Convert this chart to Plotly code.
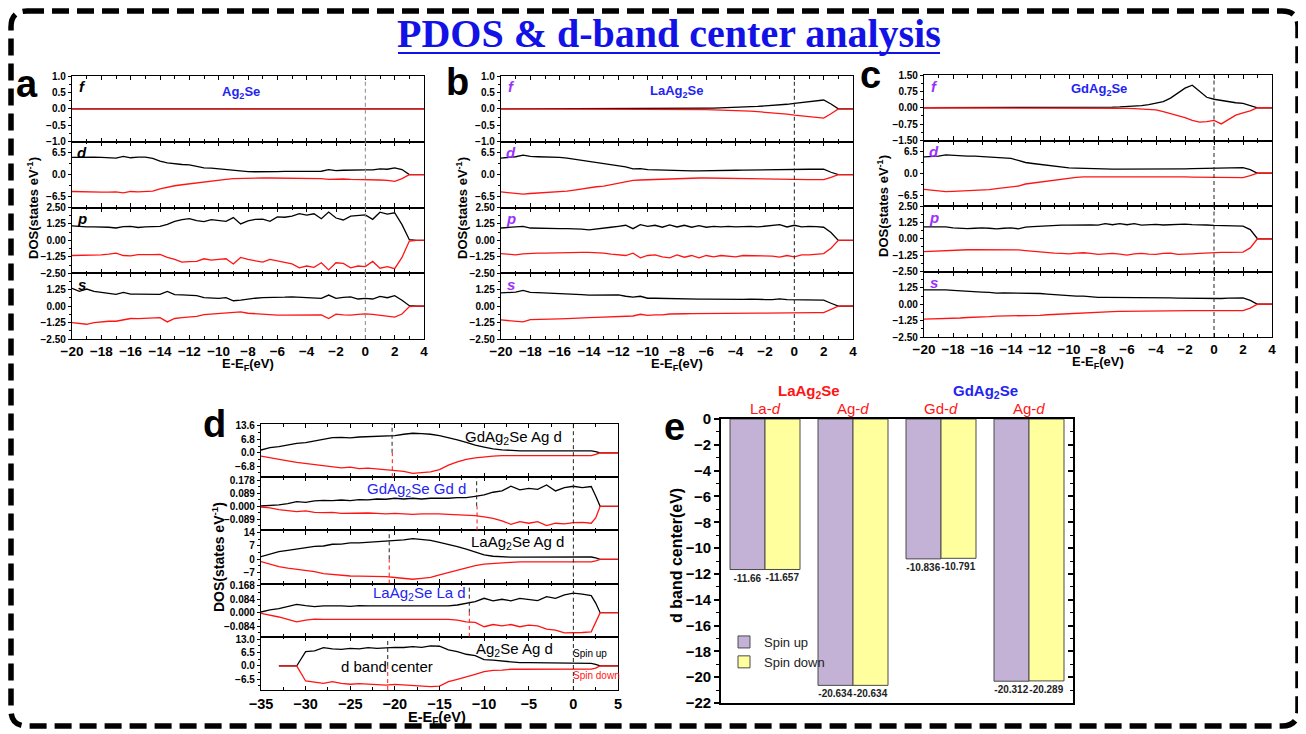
import numpy as np
import plotly.graph_objects as go

W, H = 1306, 734
OFF = 8  # page body offset of the plot div
FONT = "Liberation Sans, Arial, sans-serif"
BLUE = "#2424F2"
PURPLE = "#9B30FF"
RED = "#FF1414"

# ---------------- data: panels a-c (PDOS, energy grid 0.5 eV) ----------------
E_ABC = np.arange(-20, 4.001, 0.5).tolist()
E_FLAT = [-20, 4]
A_F_UP = [0.0, 0.0]
A_F_DN = [0.0, 0.0]

A_D_UP = [5.1, 5.2, 5.3, 5.2, 5.1, 5.0, 4.9, 5.4, 5.0, 5.2,
          5.2, 4.8, 4.0, 3.5, 3.2, 3.0, 2.9, 2.5, 2.0, 1.9,
          1.7, 1.5, 1.2, 0.9, 0.9, 0.85, 0.8, 0.85, 0.9, 0.95,
          1.0, 1.05, 1.1, 1.0, 1.0, 1.5, 1.2, 1.3, 1.4, 1.3,
          1.4, 1.4, 1.7, 1.6, 2.0, 1.5, 0.0, 0.0, 0.0]
A_D_DN = [-5.0, -5.1, -5.2, -5.2, -5.2, -5.2, -5.1, -5.4, -5.0, -5.1,
          -5.0, -4.9, -4.2, -3.7, -3.3, -3.0, -2.7, -2.5, -2.2, -1.9,
          -1.7, -1.4, -1.2, -1.1, -1.0, -1.0, -1.0, -1.0, -1.0, -1.1,
          -1.1, -1.2, -1.2, -1.2, -1.2, -1.4, -1.3, -1.3, -1.4, -1.4,
          -1.5, -1.5, -1.6, -1.7, -2.0, -1.2, 0.0, 0.0, 0.0]
A_P_UP = [1.1, 1.05, 1.02, 1.02, 1.03, 1.0, 0.94, 1.05, 1.07, 0.98,
          1.02, 1.03, 1.07, 1.22, 1.45, 1.58, 1.66, 1.5, 1.42, 1.58,
          1.5, 1.45, 1.73, 1.25, 1.48, 1.6, 1.62, 1.45, 1.78, 1.76,
          1.85, 2.04, 1.92, 2.02, 1.65, 2.15, 1.7, 1.55, 1.84, 1.88,
          1.94, 1.6, 2.14, 2.0, 2.1, 1.2, 0.05, 0.0, 0.0]
A_P_DN = [-1.15, -1.15, -1.13, -1.15, -1.1, -1.05, -0.97, -1.15, -1.18, -1.08,
          -1.1, -1.08, -1.07, -1.3, -1.45, -1.66, -1.62, -1.6, -1.4, -1.5,
          -1.45, -1.4, -1.79, -1.3, -1.45, -1.55, -1.66, -1.45, -1.55, -1.7,
          -1.79, -2.09, -1.95, -2.05, -1.7, -2.25, -1.7, -1.75, -2.09, -1.95,
          -1.99, -1.6, -2.12, -2.0, -2.15, -1.3, -0.05, 0.0, 0.0]
A_S_UP = [1.35, 1.12, 1.3, 1.12, 1.05, 1.0, 0.9, 1.05, 0.92, 0.92,
          0.92, 0.9, 0.9, 1.12, 0.88, 0.86, 0.84, 0.8, 0.64, 0.62,
          0.59, 0.64, 0.41, 0.45, 0.54, 0.6, 0.64, 0.64, 0.66, 0.68,
          0.71, 0.68, 0.64, 0.64, 0.59, 0.84, 0.59, 0.66, 0.71, 0.54,
          0.59, 0.54, 0.74, 0.64, 0.8, 0.45, 0.03, 0.0, 0.0]
A_S_DN = [-1.25, -1.3, -1.38, -1.25, -1.18, -1.15, -1.15, -1.02, -0.94, -0.95,
          -0.92, -0.9, -0.87, -1.2, -0.94, -0.88, -0.84, -0.78, -0.64, -0.6,
          -0.54, -0.52, -0.51, -0.43, -0.54, -0.58, -0.64, -0.66, -0.69, -0.68,
          -0.67, -0.68, -0.69, -0.68, -0.67, -0.94, -0.61, -0.66, -0.69, -0.62,
          -0.59, -0.62, -0.69, -0.72, -0.84, -0.6, -0.03, 0.0, 0.0]

B_F_UP = [0.0, 0.0, 0.0, 0.0, 0.0, 0.0, 0.0, 0.0, 0.0, 0.0,
          0.0, 0.0, 0.0, 0.0, 0.0, 0.0, 0.0, 0.0, 0.0, 0.0,
          0.0, 0.0, 0.005, 0.005, 0.01, 0.01, 0.015, 0.015, 0.02, 0.025,
          0.03, 0.035, 0.04, 0.05, 0.06, 0.075, 0.09, 0.1, 0.12, 0.14,
          0.17, 0.19, 0.22, 0.25, 0.27, 0.15, 0.0, 0.0, 0.0]
B_F_DN = [0.0, 0.0, 0.0, 0.0, 0.0, 0.0, 0.0, 0.0, 0.0, 0.0,
          0.0, 0.0, 0.0, 0.0, 0.0, 0.0, 0.0, 0.0, 0.0, 0.0,
          0.0, -0.005, -0.005, -0.01, -0.01, -0.015, -0.015, -0.02, -0.02, -0.03,
          -0.035, -0.04, -0.05, -0.06, -0.07, -0.085, -0.1, -0.12, -0.14, -0.16,
          -0.19, -0.21, -0.23, -0.25, -0.28, -0.15, 0.0, 0.0, 0.0]
B_D_UP = [4.9, 5.1, 5.3, 5.8, 5.4, 5.3, 5.3, 5.2, 5.1, 4.9,
          4.6, 4.2, 3.8, 3.5, 3.2, 3.0, 2.7, 2.3, 1.7, 1.8,
          1.5, 1.4, 1.3, 1.25, 1.2, 1.15, 1.1, 1.1, 1.1, 1.15,
          1.2, 1.25, 1.3, 1.35, 1.4, 1.4, 1.4, 1.45, 1.5, 1.5,
          1.5, 1.55, 1.6, 1.6, 1.6, 0.7, 0.0, 0.0, 0.0]
B_D_DN = [-5.1, -5.3, -5.4, -5.8, -5.6, -5.5, -5.4, -5.3, -5.1, -4.9,
          -4.6, -4.2, -3.8, -3.6, -3.4, -3.0, -2.7, -2.2, -1.7, -1.6,
          -1.5, -1.4, -1.3, -1.25, -1.2, -1.1, -1.05, -1.0, -1.0, -1.05,
          -1.1, -1.15, -1.2, -1.25, -1.25, -1.3, -1.3, -1.35, -1.4, -1.45,
          -1.5, -1.5, -1.5, -1.5, -1.5, -0.8, 0.0, 0.0, 0.0]
B_P_UP = [0.94, 0.98, 1.0, 1.07, 0.94, 0.92, 0.89, 0.9, 0.89, 0.9,
          0.89, 0.85, 0.8, 0.85, 0.94, 1.0, 1.07, 1.15, 0.89, 1.2,
          1.07, 1.15, 1.0, 1.18, 1.02, 1.15, 1.0, 1.12, 1.0, 1.07,
          1.02, 1.07, 1.02, 1.05, 1.07, 1.02, 1.07, 1.1, 1.2, 1.02,
          1.15, 1.02, 1.07, 1.05, 1.0, 0.6, 0.0, 0.0, 0.0]
B_P_DN = [-1.0, -1.05, -1.1, -1.02, -0.97, -0.97, -0.97, -0.95, -0.94, -0.93,
          -0.93, -0.92, -0.91, -0.92, -0.97, -1.05, -1.1, -1.15, -0.97, -1.33,
          -1.15, -1.1, -1.25, -1.33, -1.1, -1.28, -1.15, -1.33, -1.15, -1.25,
          -1.15, -1.2, -1.25, -1.15, -1.15, -1.2, -1.2, -1.2, -1.28, -1.15,
          -1.25, -1.1, -1.1, -1.05, -1.0, -0.6, 0.0, 0.0, 0.0]
B_S_UP = [1.0, 1.03, 1.07, 1.2, 1.05, 1.02, 1.0, 0.98, 0.95, 0.94,
          0.93, 0.88, 0.83, 0.83, 0.83, 0.85, 0.85, 0.75, 0.68, 0.75,
          0.6, 0.6, 0.58, 0.56, 0.55, 0.55, 0.55, 0.53, 0.53, 0.52,
          0.53, 0.5, 0.5, 0.52, 0.53, 0.5, 0.5, 0.5, 0.55, 0.5,
          0.5, 0.47, 0.45, 0.45, 0.45, 0.22, 0.0, 0.0, 0.0]
B_S_DN = [-1.05, -1.1, -1.12, -1.2, -1.02, -1.02, -1.0, -0.98, -0.97, -0.95,
          -0.94, -0.9, -0.87, -0.85, -0.83, -0.82, -0.82, -0.8, -0.75, -0.62,
          -0.7, -0.66, -0.66, -0.6, -0.57, -0.58, -0.57, -0.56, -0.55, -0.55,
          -0.55, -0.55, -0.55, -0.54, -0.53, -0.53, -0.53, -0.52, -0.5, -0.5,
          -0.5, -0.5, -0.5, -0.5, -0.5, -0.25, 0.0, 0.0, 0.0]

C_F_UP = [0.0, 0.0, 0.0, 0.0, 0.0, 0.0, 0.0, 0.0, 0.0, 0.0,
          0.0, 0.0, 0.0, 0.0, 0.0, 0.0, 0.0, 0.0, 0.0, 0.0,
          0.0, 0.0, 0.005, 0.01, 0.02, 0.02, 0.03, 0.04, 0.05, 0.07,
          0.1, 0.14, 0.2, 0.28, 0.44, 0.67, 0.9, 1.03, 0.75, 0.48,
          0.39, 0.33, 0.27, 0.23, 0.2, 0.1, 0.0, 0.0, 0.0]
C_F_DN = [0.0, 0.0, 0.0, 0.0, 0.0, 0.0, 0.0, 0.0, 0.0, 0.0,
          0.0, 0.0, 0.0, 0.0, 0.0, 0.0, 0.0, 0.0, 0.0, 0.0,
          0.0, 0.0, -0.005, -0.01, -0.015, -0.02, -0.025, -0.03, -0.03, -0.04,
          -0.05, -0.07, -0.1, -0.18, -0.27, -0.36, -0.45, -0.58, -0.66, -0.64,
          -0.58, -0.74, -0.55, -0.34, -0.23, -0.14, 0.0, 0.0, 0.0]
C_D_UP = [4.9, 5.0, 5.1, 5.5, 5.3, 5.2, 5.1, 5.1, 5.0, 4.8,
          4.6, 4.5, 4.4, 3.8, 3.2, 2.9, 2.6, 2.3, 2.1, 1.8,
          1.6, 1.5, 1.4, 1.35, 1.3, 1.25, 1.2, 1.2, 1.2, 1.15,
          1.1, 1.15, 1.2, 1.25, 1.3, 1.3, 1.3, 1.35, 1.4, 1.4,
          1.4, 1.45, 1.5, 1.6, 1.7, 1.1, 0.0, 0.0, 0.0]
C_D_DN = [-4.8, -5.0, -5.2, -5.5, -5.4, -5.3, -5.3, -5.2, -5.1, -4.9,
          -4.6, -4.4, -4.2, -3.8, -3.2, -2.9, -2.7, -2.4, -2.1, -1.7,
          -1.3, -1.2, -1.1, -1.1, -1.1, -1.05, -1.0, -1.0, -1.0, -0.95,
          -0.9, -0.95, -1.0, -1.05, -1.1, -1.1, -1.1, -1.15, -1.2, -1.25,
          -1.3, -1.3, -1.3, -1.3, -1.3, -0.7, 0.0, 0.0, 0.0]
C_P_UP = [0.91, 0.92, 0.93, 0.9, 0.83, 0.8, 0.78, 0.8, 0.83, 0.8,
          0.76, 0.8, 0.83, 0.76, 0.89, 0.92, 0.96, 1.0, 1.04, 1.04,
          1.04, 1.06, 1.09, 1.06, 1.04, 1.15, 1.07, 1.15, 1.07, 1.15,
          1.04, 1.08, 1.09, 1.05, 1.07, 1.1, 1.12, 1.08, 1.04, 1.05,
          1.02, 1.0, 1.0, 0.98, 0.96, 0.7, 0.0, 0.0, 0.0]
C_P_DN = [-0.99, -0.96, -0.94, -0.9, -0.86, -0.85, -0.84, -0.84, -0.84, -0.85,
          -0.86, -0.84, -0.81, -0.85, -0.9, -0.96, -1.02, -1.06, -1.09, -1.12,
          -1.15, -1.1, -1.07, -1.12, -1.2, -1.15, -1.12, -1.18, -1.25, -1.15,
          -1.12, -1.18, -1.2, -1.12, -1.1, -1.2, -1.2, -1.15, -1.12, -1.08,
          -1.04, -1.04, -1.04, -1.03, -1.02, -0.7, 0.0, 0.0, 0.0]
C_S_UP = [1.09, 1.1, 1.12, 1.1, 1.06, 1.04, 1.02, 0.98, 0.93, 0.9,
          0.85, 0.86, 0.85, 0.87, 0.88, 0.85, 0.82, 0.78, 0.74, 0.7,
          0.64, 0.62, 0.62, 0.57, 0.53, 0.53, 0.53, 0.52, 0.5, 0.49,
          0.48, 0.52, 0.53, 0.5, 0.48, 0.47, 0.46, 0.45, 0.43, 0.43,
          0.43, 0.44, 0.46, 0.47, 0.48, 0.3, 0.0, 0.0, 0.0]
C_S_DN = [-1.14, -1.13, -1.12, -1.1, -1.09, -1.05, -1.01, -1.0, -0.98, -0.95,
          -0.9, -0.9, -0.9, -0.88, -0.85, -0.85, -0.85, -0.8, -0.77, -0.73,
          -0.69, -0.66, -0.64, -0.61, -0.59, -0.57, -0.56, -0.54, -0.53, -0.53,
          -0.53, -0.52, -0.5, -0.49, -0.48, -0.49, -0.49, -0.49, -0.49, -0.48,
          -0.48, -0.48, -0.48, -0.48, -0.48, -0.3, 0.0, 0.0, 0.0]

# ---------------- data: panel d (d-PDOS, 1 eV grid) ----------------
E_D = list(range(-35, 3)) + [2.5, 3, 4, 5]
D1_UP = [1.4, 2.6, 3.1, 3.9, 4.8, 5.1, 6.0, 7.0, 7.7, 7.8,
         7.6, 8.0, 8.2, 8.5, 8.8, 8.7, 9.4, 9.9, 9.7, 9.4,
         8.7, 7.7, 6.6, 5.3, 3.9, 2.9, 2.0, 1.5, 1.2, 1.0,
         1.0, 1.0, 1.0, 1.0, 1.0, 0.9, 1.0, 1.0, 0.6, 0.0, 0.0, 0.0]
D1_DN = [-1.7, -2.6, -3.4, -4.1, -4.9, -5.4, -6.0, -6.6, -7.0, -7.7,
         -7.3, -8.0, -7.8, -8.2, -8.3, -8.8, -9.4, -10.5, -10.2, -9.7,
         -8.5, -6.3, -4.6, -3.4, -2.6, -2.0, -1.7, -1.5, -1.5, -1.4,
         -1.4, -1.4, -1.4, -1.4, -1.4, -1.4, -1.4, -1.4, -0.8, 0.0, 0.0, 0.0]
D2_UP = [0.002, 0.005, 0.009, 0.018, 0.032, 0.027, 0.037, 0.041, 0.039, 0.043,
         0.039, 0.046, 0.044, 0.05, 0.048, 0.055, 0.05, 0.055, 0.05, 0.055,
         0.053, 0.055, 0.059, 0.059, 0.068, 0.078, 0.096, 0.105, 0.137, 0.112,
         0.123, 0.116, 0.146, 0.105, 0.128, 0.137, 0.128, 0.135, 0.07, 0.0, 0.0, 0.0]
D2_DN = [-0.005, -0.011, -0.023, -0.032, -0.036, -0.032, -0.041, -0.043, -0.041, -0.048,
         -0.046, -0.045, -0.046, -0.048, -0.052, -0.048, -0.052, -0.055, -0.052, -0.05,
         -0.052, -0.055, -0.057, -0.059, -0.064, -0.073, -0.082, -0.1, -0.123, -0.105,
         -0.116, -0.105, -0.132, -0.116, -0.121, -0.112, -0.11, -0.116, -0.08, 0.0, 0.0, 0.0]
D3_UP = [1.4, 2.6, 4.0, 4.7, 5.4, 6.1, 6.8, 7.0, 7.9, 8.0,
         8.6, 8.6, 8.9, 9.1, 9.5, 9.6, 10.2, 10.9, 10.3, 10.0,
         8.9, 7.9, 6.7, 5.3, 4.0, 2.3, 1.6, 1.2, 1.1, 1.1,
         1.1, 1.1, 1.1, 1.2, 1.2, 1.2, 1.2, 1.2, 0.7, 0.0, 0.0, 0.0]
D3_DN = [-1.2, -2.6, -3.9, -4.7, -5.3, -6.0, -6.5, -7.5, -7.9, -8.6,
         -8.8, -8.9, -8.9, -9.1, -9.1, -9.6, -10.0, -10.5, -10.0, -9.5,
         -8.2, -7.0, -5.6, -4.4, -3.3, -2.5, -2.1, -1.75, -1.6, -1.4,
         -1.4, -1.4, -1.4, -1.4, -1.4, -1.4, -1.4, -1.4, -0.8, 0.0, 0.0, 0.0]
D4_UP = [0.004, 0.017, 0.025, 0.038, 0.052, 0.044, 0.038, 0.042, 0.044, 0.042,
         0.04, 0.044, 0.042, 0.042, 0.044, 0.04, 0.042, 0.044, 0.042, 0.042,
         0.04, 0.042, 0.048, 0.059, 0.069, 0.09, 0.074, 0.084, 0.074, 0.09,
         0.082, 0.076, 0.1, 0.09, 0.111, 0.122, 0.116, 0.107, 0.06, 0.0, 0.0, 0.0]
D4_DN = [-0.004, -0.015, -0.027, -0.042, -0.057, -0.046, -0.04, -0.042, -0.042, -0.04,
         -0.04, -0.042, -0.04, -0.04, -0.04, -0.04, -0.042, -0.04, -0.04, -0.04,
         -0.042, -0.042, -0.046, -0.057, -0.061, -0.088, -0.074, -0.082, -0.074, -0.088,
         -0.078, -0.082, -0.103, -0.109, -0.126, -0.126, -0.124, -0.12, -0.06, 0.0, 0.0, 0.0]
D5_UP = [None, None, 0.0, 0.0, 0.0, 7.0, 7.3, 8.9, 8.3, 8.1,
         8.6, 8.3, 8.9, 8.6, 8.9, 9.1, 9.0, 9.4, 9.1, 9.8,
         9.6, 7.8, 7.0, 5.7, 5.0, 3.1, 2.8, 2.4, 1.8, 1.6,
         1.6, 1.6, 1.6, 1.5, 1.5, 1.6, 1.5, 1.3, 0.8, 0.0, 0.0, 0.0]
D5_DN = [None, None, 0.0, 0.0, 0.0, -7.3, -8.0, -8.5, -7.6, -8.5,
         -8.9, -8.6, -8.8, -8.9, -9.3, -9.0, -9.3, -9.6, -9.6, -10.1,
         -9.8, -7.6, -6.5, -5.4, -4.1, -2.8, -2.1, -2.0, -1.6, -1.6,
         -1.6, -1.6, -1.6, -1.8, -1.6, -1.6, -1.6, -1.5, -1.0, 0.0, 0.0, 0.0]
DBC_UP = [-20.312, -10.836, -20.634, -11.66, -20.8]
DBC_DN = [-20.289, -10.791, -20.634, -11.657, -20.8]
D_LABELS = ["GdAg<sub>2</sub>Se Ag d", "GdAg<sub>2</sub>Se Gd d", "LaAg<sub>2</sub>Se Ag d",
            "LaAg<sub>2</sub>Se La d", "Ag<sub>2</sub>Se Ag d"]

# ---------------- data: panel e (d-band centres) ----------------
E_GROUPS = ["La-<i>d</i>", "Ag-<i>d</i>", "Gd-<i>d</i>", "Ag-<i>d</i>"]
SPIN_UP = [-11.66, -20.634, -10.836, -20.312]
SPIN_DN = [-11.657, -20.634, -10.791, -20.289]

for arr in [A_D_UP, A_D_DN, A_P_UP, A_P_DN, A_S_UP, A_S_DN, B_F_UP, B_F_DN, B_D_UP, B_D_DN,
            B_P_UP, B_P_DN, B_S_UP, B_S_DN, C_F_UP, C_F_DN, C_D_UP, C_D_DN, C_P_UP, C_P_DN,
            C_S_UP, C_S_DN]:
    assert len(arr) == len(E_ABC), len(arr)
for arr in [D1_UP, D1_DN, D2_UP, D2_DN, D3_UP, D3_DN, D4_UP, D4_DN, D5_UP, D5_DN]:
    assert len(arr) == len(E_D), len(arr)


def fx(p):
    return (p - OFF) / W


def fy(p):
    return 1 - (p - OFF) / H


fig = go.Figure()
layout = dict(width=W, height=H, margin=dict(l=0, r=0, t=0, b=0, pad=0, autoexpand=False),
              paper_bgcolor="white", plot_bgcolor="white",
              barmode="group", bargap=0.2045, bargroupgap=0.0,
              showlegend=True)
shapes = []
annotations = []
axis_n = [0]


def tfont(size, color="black"):
    return dict(family=FONT, size=size, color=color, weight="bold")


def add_axes(xpx, ypx, xr, yr, yticks, yfmt, yminor, xdtick, xminor, xlabels, xfs, yfs):
    axis_n[0] += 1
    n = axis_n[0]
    s = "" if n == 1 else str(n)
    layout["xaxis" + s] = dict(
        domain=[fx(xpx[0]), fx(xpx[1])], range=xr, anchor="y" + s, automargin=False,
        showline=True, linecolor="black", linewidth=1.3, mirror="ticks",
        ticks="inside", ticklen=4, tickwidth=1.2, tickcolor="black",
        tickmode="linear", tick0=0, dtick=xdtick,
        showticklabels=xlabels, tickfont=tfont(xfs),
        minor=dict(ticks="inside", ticklen=2.5, tickwidth=1, tickcolor="black",
                   tickmode="linear", tick0=0, dtick=xminor, showgrid=False),
        showgrid=False, zeroline=False)
    layout["yaxis" + s] = dict(
        domain=[fy(ypx[1]), fy(ypx[0])], range=yr, anchor="x" + s, automargin=False,
        showline=True, linecolor="black", linewidth=1.3, mirror=True,
        ticks="outside", ticklen=3, tickwidth=1.2, tickcolor="black",
        tickmode="array", tickvals=yticks, tickformat=yfmt, tickfont=tfont(yfs),
        minor=dict(ticks="outside", ticklen=2, tickwidth=1, tickcolor="black",
                   tickmode="linear", tick0=0, dtick=yminor, showgrid=False),
        showgrid=False, zeroline=False)
    return "x" + s, "y" + s


def ann(text, x, y, size, color="black", angle=0, family=FONT, xanchor="center", yanchor="middle"):
    annotations.append(dict(text=text, x=fx(x), y=fy(y), xref="paper", yref="paper",
                            showarrow=False, font=dict(family=family, size=size, color=color),
                            textangle=angle, xanchor=xanchor, yanchor=yanchor))


def curves(xa, ya, xs, up, dn):
    fig.add_trace(go.Scatter(x=xs, y=up, mode="lines", line=dict(color="black", width=1.3),
                             xaxis=xa, yaxis=ya, showlegend=False, hoverinfo="skip"))
    fig.add_trace(go.Scatter(x=xs, y=dn, mode="lines", line=dict(color=RED, width=1.3),
                             xaxis=xa, yaxis=ya, showlegend=False, hoverinfo="skip"))


# ---------------- panels a, b, c ----------------
panels = [
    dict(x=(72, 424), ys=[76, 141.75, 207.5, 273.25, 339], letter="a", lpos=(27, 84),
         title="Ag<sub>2</sub>Se", tpos=(241, 92), lcolor="black", zcol="#8a8a8a",
         frange=1.0, fticks=[-1.0, -0.5, 0.0, 0.5, 1.0], ffmt=".1f", fminor=0.25,
         data=[(E_FLAT, A_F_UP, A_F_DN), (E_ABC, A_D_UP, A_D_DN), (E_ABC, A_P_UP, A_P_DN), (E_ABC, A_S_UP, A_S_DN)],
         ytitle=(33, 208), xtitle=(248, 364)),
    dict(x=(501, 853), ys=[76, 141.75, 207.5, 273.25, 339], letter="b", lpos=(457, 82),
         title="LaAg<sub>2</sub>Se", tpos=(677, 91), lcolor=PURPLE, zcol="#222222",
         frange=1.0, fticks=[-1.0, -0.5, 0.0, 0.5, 1.0], ffmt=".1f", fminor=0.25,
         data=[(E_ABC, B_F_UP, B_F_DN), (E_ABC, B_D_UP, B_D_DN), (E_ABC, B_P_UP, B_P_DN), (E_ABC, B_S_UP, B_S_DN)],
         ytitle=(462, 208), xtitle=(677, 364)),
    dict(x=(924, 1272), ys=[75, 140.5, 206, 271.5, 337], letter="c", lpos=(870, 75),
         title="GdAg<sub>2</sub>Se", tpos=(1099, 89), lcolor=PURPLE, zcol="#222222",
         frange=1.5, fticks=[-1.5, -0.75, 0.0, 0.75, 1.5], ffmt=".2f", fminor=0.375,
         data=[(E_ABC, C_F_UP, C_F_DN), (E_ABC, C_D_UP, C_D_DN), (E_ABC, C_P_UP, C_P_DN), (E_ABC, C_S_UP, C_S_DN)],
         ytitle=(883, 206), xtitle=(1098, 362)),
]
orb_names = ["f", "d", "p", "s"]
for P in panels:
    specs = [
        ([-P["frange"], P["frange"]], P["fticks"], P["ffmt"], P["fminor"]),
        ([-9.75, 9.75], [-6.5, 0.0, 6.5], ".1f", 3.25),
        ([-2.5, 2.5], [-2.5, -1.25, 0.0, 1.25, 2.5], ".2f", 0.625),
        ([-2.5, 2.5], [-2.5, -1.25, 0.0, 1.25], ".2f", 0.625),
    ]
    for k in range(4):
        yr, ytk, yfmt, ymin = specs[k]
        top, bot = P["ys"][k], P["ys"][k + 1]
        xa, ya = add_axes(P["x"], (top, bot), [-20, 4], yr, ytk, yfmt, ymin, 2, 1,
                          k == 3, 13.5, 10)
        xs, up, dn = P["data"][k]
        curves(xa, ya, xs, up, dn)
        shapes.append(dict(type="line", xref=xa, yref=ya + " domain", x0=0, x1=0, y0=0, y1=1,
                           line=dict(color=P["zcol"], width=1, dash="4px,3px"), layer="above"))
        ann("<b><i>%s</i></b>" % orb_names[k], P["x"][0] + 10, top + 11, 15, P["lcolor"])
    ann("<b>%s</b>" % P["letter"], P["lpos"][0], P["lpos"][1], 38)
    ann("<b>%s</b>" % P["title"], P["tpos"][0], P["tpos"][1], 13, BLUE)
    ann("<b>DOS(states eV<sup>-1</sup>)</b>", P["ytitle"][0], P["ytitle"][1], 13, angle=-90)
    ann("<b>E-E<sub>F</sub>(eV)</b>", P["xtitle"][0], P["xtitle"][1], 13)

# ---------------- panel d ----------------
d_ys = [424, 477.2, 530.4, 583.6, 636.8, 690]
d_specs = [
    ([-12.4, 14.6], [-6.8, 0.0, 6.8, 13.6], ".1f", 3.4, D1_UP, D1_DN),
    ([-0.165, 0.199], [-0.089, 0.0, 0.089, 0.178], ".3f", 0.0445, D2_UP, D2_DN),
    ([-12.8, 15.2], [-7, 0, 7, 14], "d", 3.5, D3_UP, D3_DN),
    ([-0.151, 0.182], [-0.084, 0.0, 0.084, 0.168], ".3f", 0.042, D4_UP, D4_DN),
    ([-11.7, 14.2], [-6.5, 0.0, 6.5, 13.0], ".1f", 3.25, D5_UP, D5_DN),
]
d_lab_pos = [(513, 437, "black"), (416, 489, BLUE), (517, 542, "black"), (419, 593, BLUE), (514, 649, "black")]
for k, (yr, ytk, yfmt, ymin, up, dn) in enumerate(d_specs):
    xa, ya = add_axes((261, 618), (d_ys[k], d_ys[k + 1]), [-35, 5], yr, ytk, yfmt, ymin, 5, 2.5,
                      k == 4, 14.5, 10)
    curves(xa, ya, E_D, up, dn)
    shapes.append(dict(type="line", xref=xa, yref=ya + " domain", x0=0, x1=0, y0=0, y1=1,
                       line=dict(color="#222222", width=1, dash="4px,3px"), layer="above"))
    shapes.append(dict(type="line", xref=xa, yref=ya, x0=DBC_UP[k], x1=DBC_UP[k], y0=0, y1=yr[1],
                       line=dict(color="#222222", width=1, dash="4px,3px"), layer="above"))
    shapes.append(dict(type="line", xref=xa, yref=ya, x0=DBC_DN[k], x1=DBC_DN[k], y0=yr[0], y1=0,
                       line=dict(color=RED, width=1, dash="4px,3px"), layer="above"))
    lx, ly, lc = d_lab_pos[k]
    ann(D_LABELS[k], lx, ly, 15, lc)
ann("d band center", 387, 666, 15)
ann("Spin up", 590, 653, 10)
ann("Spin down", 596, 675, 10, RED)
ann("<b>d</b>", 215, 424, 38)
ann("<b>DOS(states eV<sup>-1</sup>)</b>", 218, 557, 14, angle=-90)
ann("<b>E-E<sub>F</sub>(eV)</b>", 437, 718, 14.5)

# ---------------- panel e ----------------
axis_n[0] += 1
ne = axis_n[0]
xe, ye = "x%d" % ne, "y%d" % ne
layout["xaxis%d" % ne] = dict(domain=[fx(721), fx(1073)], range=[-0.5, 3.5], anchor=ye, automargin=False,
                              showline=True, linecolor="black", linewidth=1.6, mirror=True,
                              ticks="", showticklabels=False, showgrid=False, zeroline=False)
layout["yaxis%d" % ne] = dict(domain=[fy(703), fy(419)], range=[-22, 0], anchor=xe, automargin=False,
                              showline=True, linecolor="black", linewidth=1.6, mirror=True,
                              ticks="outside", ticklen=5, tickwidth=1.5, tickcolor="black",
                              tickmode="linear", tick0=0, dtick=2, tickformat="d", tickfont=tfont(15),
                              minor=dict(ticks="outside", ticklen=3, tickwidth=1.2, tickcolor="black",
                                         tickmode="linear", tick0=0, dtick=1),
                              showgrid=False, zeroline=False)
layout["yaxis%d" % (ne + 1)] = dict(overlaying=ye, side="right", anchor=xe, range=[-22, 0], automargin=False,
                                    showline=False, ticks="inside", ticklen=5, tickwidth=1.5,
                                    tickcolor="black", tickmode="linear", tick0=0, dtick=2,
                                    showticklabels=False,
                                    minor=dict(ticks="inside", ticklen=3, tickwidth=1.2, tickcolor="black",
                                               tickmode="linear", tick0=0, dtick=1),
                                    showgrid=False, zeroline=False)
cats = list(range(len(SPIN_UP)))
fig.add_trace(go.Bar(x=cats, y=SPIN_UP, name="Spin up", xaxis=xe, yaxis=ye,
                     marker=dict(color="#C3B2D6", line=dict(color="#4a4a4a", width=1)),
                     text=[str(v) for v in SPIN_UP], textposition="outside", constraintext="none",
                     textfont=dict(family=FONT, size=10, color="#222", weight="bold"),
                     cliponaxis=False, hoverinfo="skip"))
fig.add_trace(go.Bar(x=cats, y=SPIN_DN, name="Spin down", xaxis=xe, yaxis=ye,
                     marker=dict(color="#FFFF9E", line=dict(color="#4a4a4a", width=1)),
                     text=[str(v) for v in SPIN_DN], textposition="outside", constraintext="none",
                     textfont=dict(family=FONT, size=10, color="#222", weight="bold"),
                     cliponaxis=False, hoverinfo="skip"))
fig.add_trace(go.Scatter(x=[0], y=[-30], xaxis=xe, yaxis="y%d" % (ne + 1), mode="markers",
                         showlegend=False, hoverinfo="skip", marker=dict(opacity=0)))
for i, g in enumerate(E_GROUPS):
    annotations.append(dict(text=g, x=i, y=fy(408), xref=xe, yref="paper", showarrow=False,
                            font=dict(family=FONT, size=15, color=RED)))
annotations.append(dict(text="<b>LaAg<sub>2</sub>Se</b>", x=0.5, y=fy(392), xref=xe, yref="paper",
                        showarrow=False, font=dict(family=FONT, size=15, color=RED)))
annotations.append(dict(text="<b>GdAg<sub>2</sub>Se</b>", x=2.5, y=fy(392), xref=xe, yref="paper",
                        showarrow=False, font=dict(family=FONT, size=15, color=BLUE)))
ann("<b>e</b>", 674, 427, 38)
ann("<b>d band center(eV)</b>", 676, 556, 16, angle=-90)

layout["legend"] = dict(x=fx(724), y=fy(627), xanchor="left", yanchor="top",
                        font=dict(family=FONT, size=13, color="#222"), bgcolor="rgba(0,0,0,0)",
                        tracegroupgap=0, itemwidth=30)

# ---------------- title & frame ----------------
TITLE_COLOR = "#1212E6"
ann("<b>PDOS &amp; d-band center analysis</b>", 669, 34, 40, TITLE_COLOR,
    family="Liberation Serif, Times New Roman, serif")
shapes.append(dict(type="line", xref="paper", yref="paper", x0=fx(398), x1=fx(940), y0=fy(53), y1=fy(53),
                   line=dict(color=TITLE_COLOR, width=2)))
x0, y0, x1, y1, r = 11, 11, 1298, 726, 16
pts = [("M", x0 + r, y0), ("L", x1 - r, y0), ("Q", x1, y0, x1, y0 + r), ("L", x1, y1 - r),
       ("Q", x1, y1, x1 - r, y1), ("L", x0 + r, y1), ("Q", x0, y1, x0, y1 - r), ("L", x0, y0 + r),
       ("Q", x0, y0, x0 + r, y0)]
path = ""
for p in pts:
    cmd = p[0]
    coords = p[1:]
    seg = []
    for j in range(0, len(coords), 2):
        seg.append("%.5f,%.5f" % (fx(coords[j]), fy(coords[j + 1])))
    path += cmd + " " + " ".join(seg) + " "
path += "Z"
shapes.append(dict(type="path", xref="paper", yref="paper", path=path,
                   line=dict(color="black", width=5.5, dash="17px,8px")))

layout["shapes"] = shapes
layout["annotations"] = annotations
fig.update_layout(**layout)
fig.write_html("out.html")
